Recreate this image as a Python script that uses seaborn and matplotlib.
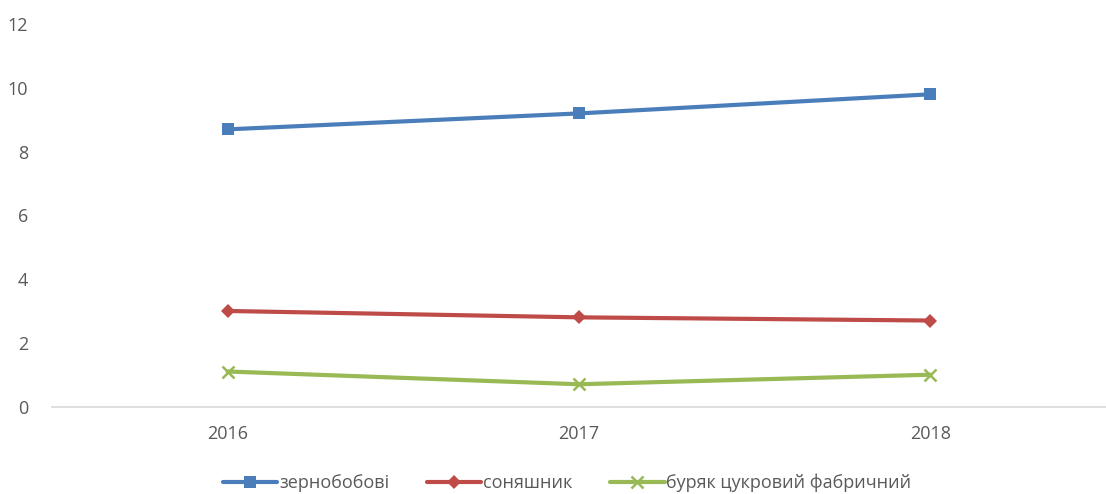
import matplotlib
matplotlib.use("Agg")
import matplotlib.pyplot as plt
import seaborn as sns
import pandas as pd

years = ["2016", "2017", "2018"]
legumes = [8.7, 9.2, 9.8]
sunflower = [3.0, 2.8, 2.7]
sugar_beet = [1.1, 0.7, 1.0]
series_names = ["зернобобові", "соняшник", "буряк цукровий фабричний"]

sns.set_theme(style="white")
plt.rcParams["font.family"] = ["Open Sans", "DejaVu Sans"]

colors = ["#4A7EBB", "#BE4B48", "#98B954"]
marker_styles = [
    dict(marker="s", markersize=8.5, markeredgewidth=0),
    dict(marker="D", markersize=7.5, markeredgewidth=0),
    dict(marker="x", markersize=8, markeredgewidth=1.8),
]

fig = plt.figure(figsize=(11.06, 4.94), dpi=100)
ax = fig.add_axes([0.047, 0.177, 0.953, 0.774])

for name, values, color, mstyle in zip(series_names, [legumes, sunflower, sugar_beet],
                                       colors, marker_styles):
    sns.lineplot(x=years, y=values, color=color, linewidth=3, sort=False,
                 label=name, markeredgecolor=color, ax=ax, **mstyle)

ax.set_ylim(0, 12)
ax.set_yticks(range(0, 13, 2))
ax.set_xlim(-0.5, 2.5)
ax.set_xlabel("")
ax.set_ylabel("")
for s in ["top", "right", "left"]:
    ax.spines[s].set_visible(False)
ax.spines["bottom"].set_color("#D9D9D9")
ax.spines["bottom"].set_linewidth(1.2)
ax.tick_params(axis="both", length=0, labelsize=13, labelcolor="#595959")
ax.tick_params(axis="x", pad=13)
ax.tick_params(axis="y", pad=17)

handles, labels = ax.get_legend_handles_labels()
ax.get_legend().remove()
fig.legend(handles, labels, loc="center", bbox_to_anchor=(0.513, 0.022),
           ncol=3, frameon=False, fontsize=13, handlelength=3.0,
           columnspacing=2.1, handletextpad=0.1, labelcolor="#595959")

fig.savefig("out.png", dpi=100)
